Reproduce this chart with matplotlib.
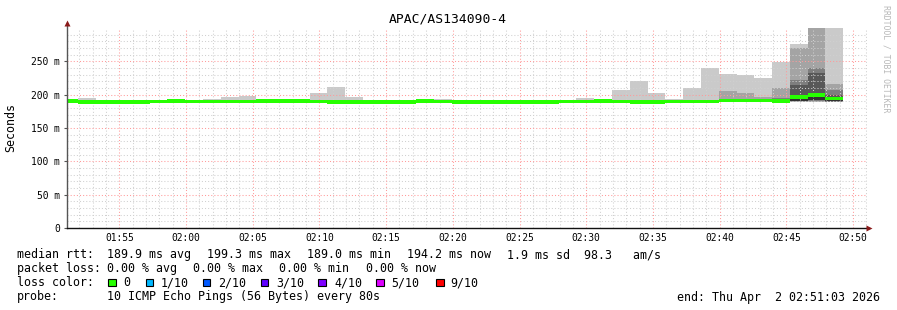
import matplotlib.pyplot as plt
from matplotlib.patches import Rectangle

W, H = 897, 310
MONO = 'DejaVu Sans Mono'

# ---- data ------------------------------------------------------------------
title = 'APAC/AS134090-4'
step_min = 80 / 60.0          # one ping round every 80 s
first_bin = 50.6              # 01:50:36, minutes after 01:00
view_start, view_end = 51.05, 111.05   # 01:51:03 .. 02:51:03

median = [190.5, 189.2, 189.2, 189.2, 189.2, 189.3, 190.3, 189.4, 189.8, 190.2,
          189.5, 190.3, 190.3, 190.3, 189.4, 189.2, 189.2, 189.0, 189.0, 189.0,
          190.3, 189.3, 189.0, 189.0, 189.0, 189.0, 189.0, 189.0, 189.3, 189.4,
          190.6, 189.3, 189.2, 189.2, 189.4, 189.6, 189.4, 191.0, 191.0, 191.0,
          190.7, 196.5, 199.3, 194.2]
ping_max = [191.5, 195.0, 190.0, 190.0, 190.5, 192.0, 191.0, 192.0, 193.6, 196.7,
            198.0, 191.0, 191.0, 191.0, 202.0, 211.0, 196.0, 190.0, 190.0, 190.0,
            191.0, 193.0, 190.0, 190.0, 190.0, 190.0, 190.0, 190.0, 191.6, 194.7,
            192.7, 206.6, 220.0, 202.0, 193.0, 209.6, 240.0, 230.6, 229.0, 224.6,
            249.6, 275.6, 310.0, 310.0]
ping_min = [188.8] * 35 + [189.0] * 9

# inner pings p1..p8 (sorted) for the last bins, where the darker smoke shows
tail_first = 35
tail_inner = [
    [189.2, 189.3, 189.4, 189.5, 189.7, 189.8, 189.9, 190.2],
    [189.1, 189.2, 189.3, 189.4, 189.5, 189.7, 190.0, 191.5],
    [189.5, 190.0, 190.4, 190.7, 191.3, 191.6, 192.0, 205.6],
    [189.5, 190.0, 190.4, 190.7, 191.3, 191.6, 192.0, 202.0],
    [189.5, 190.0, 190.4, 190.7, 191.3, 191.6, 192.0, 196.7],
    [189.5, 189.8, 190.1, 190.4, 191.0, 192.0, 194.7, 209.6],
    [189.4, 189.8, 190.3, 190.8, 200.0, 215.0, 222.0, 269.6],
    [189.5, 189.8, 191.5, 192.0, 200.5, 232.6, 240.0, 305.0],
    [189.3, 189.6, 190.0, 190.3, 196.0, 199.0, 207.0, 215.6],
]

xtick_min = [55, 60, 65, 70, 75, 80, 85, 90, 95, 100, 105, 110]
xtick_labels = ['01:55', '02:00', '02:05', '02:10', '02:15', '02:20',
                '02:25', '02:30', '02:35', '02:40', '02:45', '02:50']
ytick_vals = [0, 50, 100, 150, 200, 250]
ytick_labels = ['0', '50 m', '100 m', '150 m', '200 m', '250 m']

loss_names = ['0', '1/10', '2/10', '3/10', '4/10', '5/10', '9/10']
loss_colors = ['#26ff00', '#00b8ff', '#0059ff', '#5e00ff', '#7e00ff', '#dd00ff', '#ff0000']

smoke_colors = ['#cacaca', '#a4a4a4', '#7e7e7e', '#585858', '#323232']

# ---- figure ------------------------------------------------------------------
fig = plt.figure(figsize=(W / 100, H / 100), dpi=100)
fig.patch.set_facecolor('white')
ax = fig.add_axes([66.7 / W, (H - 228) / H, 800.3 / W, 200 / H])
ax.set_xlim(view_start, view_end)
ax.set_ylim(0, 300)

starts = [first_bin + i * step_min for i in range(len(median))]

# outer smoke (min..max)
ax.bar(starts, [hi - lo for lo, hi in zip(ping_min, ping_max)], width=step_min,
       bottom=ping_min, align='edge', color=smoke_colors[0], lw=0,
       antialiased=False, zorder=1)

# inner smoke rings for the tail bins
tail_x = starts[tail_first:]
for r in range(1, 5):
    lo = [p[r - 1] for p in tail_inner]
    hi = [p[8 - r] for p in tail_inner]
    ax.bar(tail_x, [b - a for a, b in zip(lo, hi)], width=step_min, bottom=lo,
           align='edge', color=smoke_colors[r], lw=0, antialiased=False, zorder=1 + r * 0.1)

# median line, loss 0 -> green
thick = 5.0
ax.bar(starts, [thick] * len(median), width=step_min,
       bottom=[m - thick / 2 for m in median], align='edge',
       color=loss_colors[0], lw=0, antialiased=True, zorder=3)

# ---- grid ---------------------------------------------------------------------
dots = (0, (1, 2))
for m in range(52, 112):
    if m % 5:
        ax.axvline(m, color='#d0d0d0', lw=0.75, ls=dots, zorder=2.5)
for v in range(10, 300, 10):
    if v % 50:
        ax.axhline(v, color='#d0d0d0', lw=0.75, ls=dots, zorder=2.5)
for m in xtick_min:
    ax.axvline(m, color='#ff9a9a', lw=0.75, ls=dots, zorder=2.6)
for v in ytick_vals[1:]:
    ax.axhline(v, color='#ff9a9a', lw=0.75, ls=dots, zorder=2.6)

# ---- axes -----------------------------------------------------------------------
for s in ax.spines.values():
    s.set_visible(False)
ax.plot([0, 0], [0, 1.027], transform=ax.transAxes, color='#555555', lw=1.0,
        clip_on=False, zorder=4)
ax.plot([0, 1.003], [0, 0], transform=ax.transAxes, color='#111111', lw=1.0,
        clip_on=False, zorder=4)
ax.plot([0], [1.027], transform=ax.transAxes, marker='^', ms=4.5, color='#8b1a1a',
        clip_on=False, zorder=5, mec='none')
ax.plot([1.003], [0], transform=ax.transAxes, marker='>', ms=4.5, color='#8b1a1a',
        clip_on=False, zorder=5, mec='none')

ax.set_xticks(xtick_min)
ax.set_xticklabels(xtick_labels, family=MONO, fontsize=6.9)
ax.set_yticks(ytick_vals)
ax.set_yticklabels(ytick_labels, family=MONO, fontsize=6.9)
ax.tick_params(axis='x', length=0, pad=3.5)
ax.tick_params(axis='y', length=2, width=0.8, color='#555555', pad=3.0)

# ---- texts ----------------------------------------------------------------------
def ftext(x, y, s, **kw):
    kw.setdefault('family', MONO)
    kw.setdefault('fontsize', 8.4)
    kw.setdefault('color', '#000000')
    fig.text(x / W, 1 - y / H, s, **kw)

ftext(448, 19, title, fontsize=9.4, ha='center', va='center')
ftext(11, 128, 'Seconds', rotation=90, ha='center', va='center')
ftext(886, 59, 'RRDTOOL / TOBI OETIKER', rotation=270, fontsize=5.9,
      color='#b8b8b8', ha='center', va='center')

row1 = [(16.7, 'median rtt:'), (107.3, '189.9 ms avg'), (207.3, '199.3 ms max'),
        (307.3, '189.0 ms min'), (407.3, '194.2 ms now'),
        (507.3, '1.9 ms sd  98.3   am/s')]
for x, s in row1:
    ftext(x, 258, s, va='baseline')

row2 = [(16.7, 'packet loss:'), (107.3, '0.00 % avg'), (193.3, '0.00 % max'),
        (279.3, '0.00 % min'), (365.7, '0.00 % now')]
for x, s in row2:
    ftext(x, 272, s, va='baseline')

ftext(16.7, 286, 'loss color:', va='baseline')
box_x = [108.3, 145.7, 202.7, 260.7, 318.3, 376.0, 436.0]
lab_x = [123.3, 160.7, 218.3, 276.0, 334.0, 391.7, 450.7]
for bx, lx, name, col in zip(box_x, lab_x, loss_names, loss_colors):
    fig.add_artist(Rectangle((bx / W, 1 - 286 / H), 7.5 / W, 7.5 / H,
                             transform=fig.transFigure, facecolor=col,
                             edgecolor='#000000', lw=0.8))
    ftext(lx, 286, name, va='baseline')

ftext(16.7, 300, 'probe:', va='baseline')
ftext(107.3, 300, '10 ICMP Echo Pings (56 Bytes) every 80s', va='baseline')
ftext(880, 300.5, 'end: Thu Apr  2 02:51:03 2026', ha='right', va='baseline')

fig.savefig('out.png', dpi=100, facecolor='white')
plt.close(fig)
